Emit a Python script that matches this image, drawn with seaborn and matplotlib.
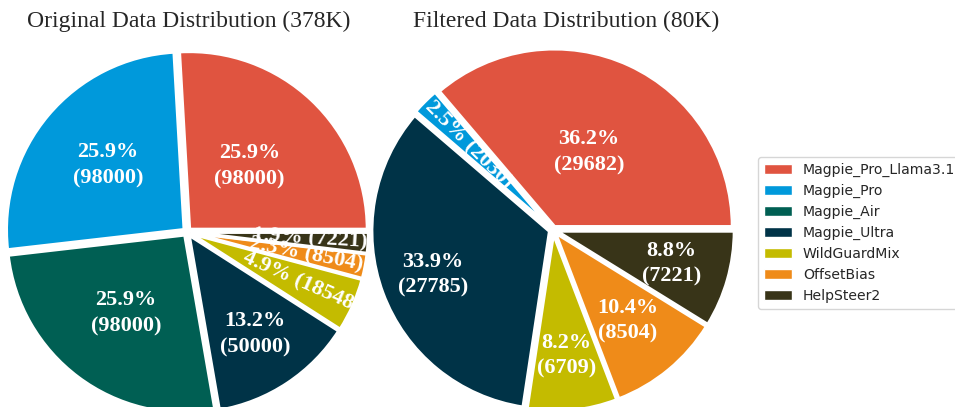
import numpy as np
import matplotlib
matplotlib.use('Agg')
import matplotlib.pyplot as plt
from matplotlib.patches import Patch
import seaborn as sns

# data sources, colors and counts
sources = ['Magpie_Pro_Llama3.1', 'Magpie_Pro', 'Magpie_Air', 'Magpie_Ultra',
           'WildGuardMix', 'OffsetBias', 'HelpSteer2']
source_colors = ['#E05440', '#0099DB', '#005F53', '#003347',
                 '#C4BB00', '#EF8B19', '#383418']

original_counts = [98000, 98000, 98000, 50000, 18548, 8504, 7221]
original_pcts = [25.9, 25.9, 25.9, 13.2, 4.9, 2.3, 1.9]

filtered_counts = [29682, 2030, 0, 27785, 6709, 8504, 7221]
filtered_pcts = [36.2, 2.5, 0.0, 33.9, 8.2, 10.4, 8.8]

# label distance from the pie center (fraction of radius), per wedge
original_label_r = [0.51, 0.58, 0.57, 0.69, 0.70, 0.68, 0.69]
filtered_label_r = [0.48, 0.67, 0.60, 0.72, 0.71, 0.66, 0.69]

sns.set_style('white')
serif = ['Liberation Serif', 'DejaVu Serif']

W, H = 955, 407
R = 178          # pie radius in pixels
LIM = 1.1
EXPLODE = 0.02

fig = plt.figure(figsize=(W / 100, H / 100), dpi=100)


def pie_axes(cx, cy):
    side = 2 * LIM * R
    return fig.add_axes([(cx - side / 2) / W, 1 - (cy + side / 2) / H, side / W, side / H])


def draw_pie(ax, counts, pcts, label_r):
    keep = [i for i, c in enumerate(counts) if c > 0]
    wedges, _ = ax.pie([counts[i] for i in keep],
                       colors=[source_colors[i] for i in keep],
                       startangle=0, counterclock=True,
                       explode=[EXPLODE] * len(keep),
                       wedgeprops=dict(edgecolor='white', linewidth=2.5))
    ax.set_xlim(-LIM, LIM)
    ax.set_ylim(-LIM, LIM)
    ax.set_aspect('equal')
    ax.axis('off')
    for w, i in zip(wedges, keep):
        mid = (w.theta1 + w.theta2) / 2
        r = label_r[i]
        x, y = r * np.cos(np.deg2rad(mid)), r * np.sin(np.deg2rad(mid))
        if pcts[i] < 5:
            rot = mid
            if 90 < rot < 270:
                rot -= 180
            ax.text(x, y, f'{pcts[i]:.1f}% ({counts[i]})', rotation=rot,
                    rotation_mode='anchor', ha='center', va='center',
                    color='white', fontsize=16, fontweight='bold', family=serif)
        else:
            ax.text(x, y, f'{pcts[i]:.1f}%\n({counts[i]})', ha='center', va='center',
                    color='white', fontsize=16, fontweight='bold', family=serif,
                    linespacing=1.4)


ax1 = pie_axes(187, 232)
draw_pie(ax1, original_counts, original_pcts, original_label_r)
ax2 = pie_axes(553, 230)
draw_pie(ax2, filtered_counts, filtered_pcts, filtered_label_r)

fig.text(189 / W, 1 - 21 / H, 'Original Data Distribution (378K)',
         ha='center', va='center', fontsize=17, family=serif)
fig.text(566 / W, 1 - 21 / H, 'Filtered Data Distribution (80K)',
         ha='center', va='center', fontsize=17, family=serif)

handles = [Patch(facecolor=c, label=s) for s, c in zip(sources, source_colors)]
fig.legend(handles=handles, loc='upper left', bbox_to_anchor=(758 / W, 1 - 157 / H),
           borderaxespad=0, fontsize=10.1, frameon=True)

fig.savefig('out.png', dpi=100)
